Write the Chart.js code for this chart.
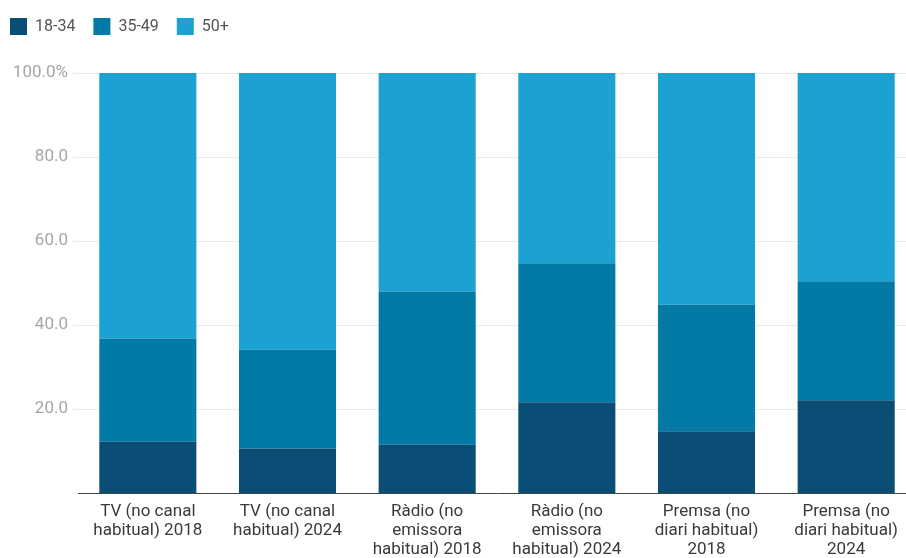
<!DOCTYPE html>
<html>
<head>
<meta charset="utf-8">
<script src="https://cdn.jsdelivr.net/npm/chart.js@4"></script>
<style>
  html, body { margin: 0; padding: 0; background: #fff; overflow: hidden; }
  /* the last slot runs slightly past the right edge of the window */
  #wrap { width: 916px; height: 558px; position: relative; }
</style>
</head>
<body>
<div id="wrap"><canvas id="chart"></canvas></div>
<script>
// Audience share by age group, per medium and year
const categories = [
  ['TV (no canal', 'habitual) 2018'],
  ['TV (no canal', 'habitual) 2024'],
  ['Ràdio (no', 'emissora', 'habitual) 2018'],
  ['Ràdio (no', 'emissora', 'habitual) 2024'],
  ['Premsa (no', 'diari habitual)', '2018'],
  ['Premsa (no', 'diari habitual)', '2024'],
];
const age18to34 = [12.2, 10.6, 11.5, 21.6, 14.7, 22.1];
const age35to49 = [24.6, 23.5, 36.5, 33.1, 30.1, 28.3];
const age50plus = [63.2, 65.9, 52.0, 45.3, 55.2, 49.6];
const yTicks = [20, 40, 60, 80, 100];

const colors = {
  young: '#0a4d75',
  middle: '#0379a6',
  old: '#1ba2d3',
};

function series(label, data, color) {
  return {
    label,
    data,
    backgroundColor: color,
    borderWidth: 0,
    barPercentage: 0.695,
    categoryPercentage: 1.0,
  };
}

// extra room between the legend row and the plot, and legend nudged left
const legendTweak = {
  id: 'legendTweak',
  beforeInit(chart) {
    const fit = chart.legend.fit;
    chart.legend.fit = function () {
      fit.call(this);
      this.height += 28;
    };
  },
  afterLayout(chart) {
    chart.legend.left -= 8;
    chart.legend.right -= 8;
  },
};

new Chart(document.getElementById('chart'), {
  type: 'bar',
  data: {
    labels: categories,
    datasets: [
      series('18-34', age18to34, colors.young),
      series('35-49', age35to49, colors.middle),
      series('50+', age50plus, colors.old),
    ],
  },
  plugins: [legendTweak],
  options: {
    responsive: true,
    maintainAspectRatio: false,
    animation: false,
    layout: { padding: { top: 0, right: 0, left: 0, bottom: 0 } },
    plugins: {
      legend: {
        position: 'top',
        align: 'start',
        labels: {
          boxWidth: 17,
          boxHeight: 17,
          padding: 18,
          color: '#555',
          font: { family: 'Roboto', size: 16 },
        },
      },
      tooltip: { enabled: false },
    },
    scales: {
      x: {
        stacked: true,
        afterFit: (scale) => { scale.height = 65; },
        grid: { display: false, drawTicks: false },
        border: { color: '#444', width: 1 },
        ticks: {
          color: '#3a3a3a',
          maxRotation: 0,
          autoSkip: false,
          padding: 9,
          font: { family: 'Roboto', size: 17, lineHeight: 1.12 },
        },
      },
      y: {
        stacked: true,
        min: 0,
        max: 100,
        afterFit: (scale) => { scale.width = 78; },
        afterBuildTicks: (scale) => {
          scale.ticks = yTicks.map(v => ({ value: v }));
        },
        grid: { color: '#ebebeb', tickLength: 5 },
        border: { display: false },
        ticks: {
          color: '#a6a6a6',
          padding: 5,
          font: { family: 'Roboto', size: 17 },
          callback: (v) => v === 100 ? '100.0%' : v.toFixed(1),
        },
      },
    },
  },
});
</script>
</body>
</html>
